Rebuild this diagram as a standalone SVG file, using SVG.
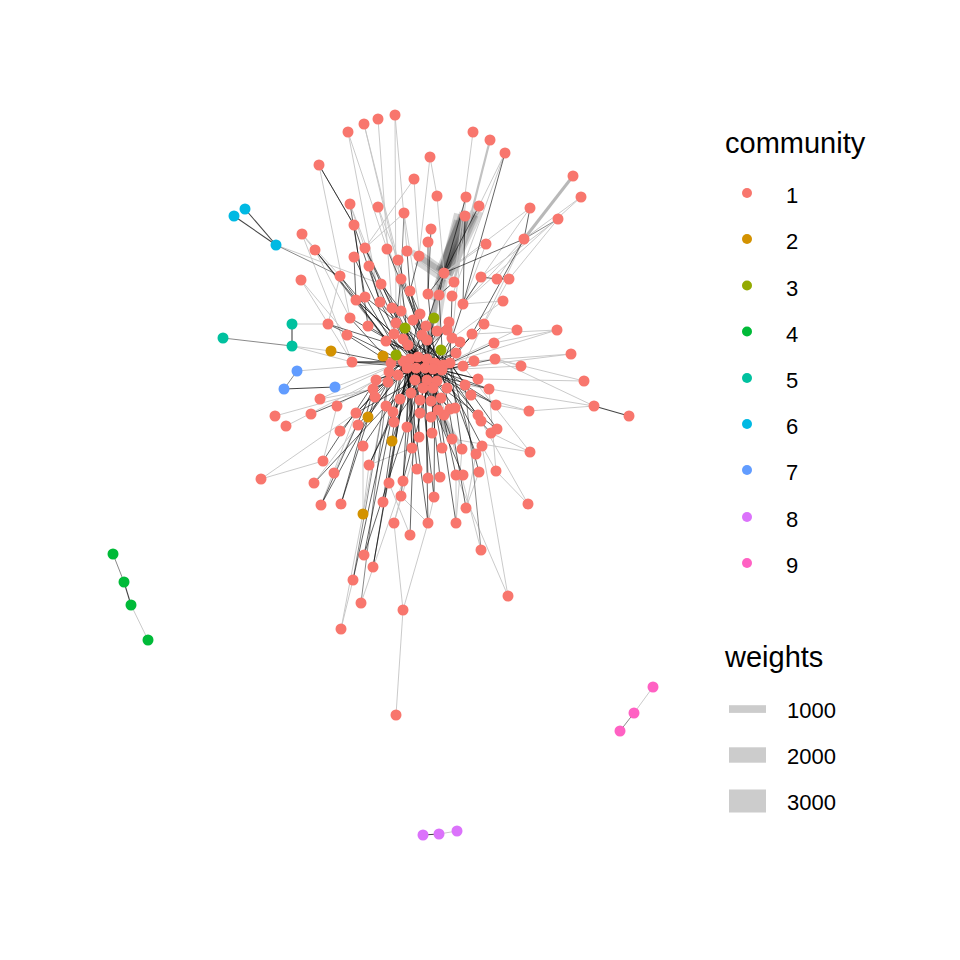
<svg xmlns="http://www.w3.org/2000/svg" width="960" height="960" viewBox="0 0 960 960">
<style>
.l{stroke:#c4c4c4;stroke-width:0.9;fill:none}
.m{stroke:#8a8a8a;stroke-width:1}
.k{stroke:#444;stroke-width:1.1}
.d{stroke:#000;stroke-opacity:0.68;stroke-width:0.9}
.b{stroke:#000;stroke-opacity:0.16}
.c1{fill:#F8766D}.c2{fill:#D39200}.c3{fill:#93AA00}.c4{fill:#00BA38}.c5{fill:#00C19F}.c6{fill:#00B9E3}.c7{fill:#619CFF}.c8{fill:#DB72FB}.c9{fill:#FF61C3}
text{font-family:"Liberation Sans",Arial,sans-serif;fill:#000}
.t{font-size:29px}.s{font-size:22px}
</style>
<rect width="960" height="960" fill="#fff"/>
<g id="edges">
<g id="bands">
<line class="b" x1="444" y1="273" x2="459" y2="214" stroke-width="10"/>
<line class="b" x1="444" y1="273" x2="466" y2="214" stroke-width="14"/>
<line class="b" x1="444" y1="273" x2="474" y2="212" stroke-width="8"/>
<line class="b" x1="444" y1="273" x2="478" y2="208" stroke-width="6"/>
<line class="b" x1="444" y1="273" x2="470" y2="213" stroke-width="18"/>
<line class="b" x1="440" y1="290" x2="462" y2="218" stroke-width="6"/>
<line class="b" x1="436" y1="285" x2="456" y2="220" stroke-width="4"/>
<line class="b" x1="448" y1="280" x2="481" y2="212" stroke-width="5"/>
<line class="b" x1="444" y1="273" x2="420" y2="256" stroke-width="10"/>
<line class="b" x1="444" y1="273" x2="412" y2="252" stroke-width="6"/>
<line class="b" x1="440" y1="278" x2="416" y2="262" stroke-width="5"/>
<line class="b" x1="444" y1="273" x2="432" y2="300" stroke-width="8"/>
<line class="b" x1="440" y1="285" x2="428" y2="340" stroke-width="6"/>
<line class="b" x1="436" y1="300" x2="425" y2="360" stroke-width="5"/>
<line class="b" x1="446" y1="280" x2="436" y2="340" stroke-width="4"/>
<line class="b" x1="430" y1="392" x2="452" y2="440" stroke-width="6"/>
<line class="b" x1="425" y1="385" x2="462" y2="448" stroke-width="4"/>
<line class="b" x1="432" y1="395" x2="446" y2="432" stroke-width="3"/>
<line x1="573" y1="176" x2="524" y2="239" stroke="#b8b8b8" stroke-width="3"/>
<line x1="490" y1="140" x2="454" y2="282" stroke="#c2c2c2" stroke-width="2.2"/>
</g>
<path class="l" d="M395 115L396 323M378 119L392 308M364 124L401 279M348 132L387 249M348 132L380 302M473 132L454 282M505 153L452 296M505 153L479 206M430 157L419 256M430 157L437 196M581 197L524 239M581 197L463 304M414 179L419 256M414 179L365 248M437 196L444 273M350 204L381 284M378 207L398 260M404 213L365 248M558 219L509 279M302 234L340 276M302 234L352 362M486 244L463 304M486 244L444 273M387 249L410 291M398 260L401 311M301 280L347 335M301 280L352 362M340 276L328 324M509 279L484 324M503 301L463 304M503 301L452 338M517 330L443 365M517 330L484 324M557 330L450 363M557 330L494 343M571 354L442 370M521 366L442 370M521 366L495 359M584 381L478 379M594 406L465 385M529 411L447 388M529 411L496 405M530 452L491 433M530 452L452 439M528 504L481 421M508 596L482 446M394 523L401 496M394 523L419 437M428 523L434 497M456 523L462 449M456 523L456 475M403 610L394 523M403 610L428 523M396 715L403 610M341 629L353 580M320 399L373 389M320 399L403 361M337 406L403 361M275 416L373 389M286 426L376 380M334 473L373 389M261 479L356 413M323 461L337 406M314 483L358 425M363 514L363 446M363 514L369 465M369 465L412 448M389 483L410 535M401 496L428 523M466 508L479 472M466 508L476 454M496 471L482 446M528 504L496 471M496 471L489 389M276 245L381 284M292 346L331 351M292 346L352 362M292 324L328 324M297 371L391 363M335 387L403 361M315 250L350 318M530 208L463 304M524 239L463 304M524 239L497 279M558 219L481 277M131 605L148 640M439 834L457 831M653 687L634 713M529 411L594 406M584 381L495 359M350 204L403 361M319 165L350 318M378 207L418 357M404 213L427 359M466 197L452 338M524 239L463 366M302 234L386 341M261 479L323 461M321 505L356 413M341 629L388 382M361 603L403 481M508 596L456 475M481 550L441 398M530 452L463 366M594 406L495 359M571 354L474 361M557 330L472 334M530 208L444 273M364 124L398 260M395 115L407 251"/>
<line class="m" x1="319" y1="165" x2="354" y2="225"/>
<line class="m" x1="404" y1="213" x2="401" y2="279"/>
<line class="m" x1="558" y1="219" x2="524" y2="239"/>
<line class="k" x1="245" y1="209" x2="276" y2="245"/>
<line class="k" x1="234" y1="216" x2="276" y2="245"/>
<line class="m" x1="276" y1="245" x2="340" y2="276"/>
<line class="m" x1="223" y1="338" x2="292" y2="346"/>
<line class="k" x1="292" y1="324" x2="292" y2="346"/>
<line class="m" x1="297" y1="371" x2="284" y2="389"/>
<line class="k" x1="284" y1="389" x2="335" y2="387"/>
<line class="m" x1="361" y1="603" x2="388" y2="382"/>
<line class="m" x1="353" y1="580" x2="391" y2="363"/>
<line class="m" x1="481" y1="550" x2="465" y2="385"/>
<line class="m" x1="113" y1="554" x2="124" y2="582"/>
<line class="k" x1="124" y1="582" x2="131" y2="605"/>
<line class="k" x1="423" y1="835" x2="439" y2="834"/>
<line class="m" x1="634" y1="713" x2="620" y2="731"/>
<line class="k" x1="594" y1="406" x2="629" y2="416"/>
<g id="dark">
<line class="d" x1="354" y1="225" x2="380" y2="302"/>
<line class="d" x1="466" y1="197" x2="444" y2="273"/>
<line class="d" x1="479" y1="206" x2="444" y2="273"/>
<line class="d" x1="530" y1="208" x2="524" y2="239"/>
<line class="d" x1="524" y1="239" x2="444" y2="273"/>
<line class="d" x1="524" y1="239" x2="472" y2="334"/>
<line class="d" x1="428" y1="242" x2="428" y2="294"/>
<line class="d" x1="365" y1="248" x2="392" y2="308"/>
<line class="d" x1="407" y1="251" x2="410" y2="291"/>
<line class="d" x1="354" y1="257" x2="356" y2="300"/>
<line class="d" x1="369" y1="266" x2="380" y2="302"/>
<line class="d" x1="315" y1="250" x2="356" y2="300"/>
<line class="d" x1="444" y1="273" x2="428" y2="294"/>
<line class="d" x1="444" y1="273" x2="439" y2="295"/>
<line class="d" x1="444" y1="273" x2="426" y2="326"/>
<line class="d" x1="454" y1="282" x2="439" y2="295"/>
<line class="d" x1="481" y1="277" x2="497" y2="279"/>
<line class="d" x1="481" y1="277" x2="463" y2="304"/>
<line class="d" x1="497" y1="279" x2="509" y2="279"/>
<line class="d" x1="350" y1="204" x2="365" y2="297"/>
<line class="d" x1="354" y1="225" x2="368" y2="326"/>
<line class="d" x1="340" y1="276" x2="386" y2="341"/>
<line class="d" x1="465" y1="216" x2="463" y2="304"/>
<line class="d" x1="431" y1="229" x2="428" y2="294"/>
<line class="d" x1="419" y1="256" x2="410" y2="291"/>
<line class="d" x1="401" y1="279" x2="396" y2="323"/>
<line class="d" x1="410" y1="291" x2="420" y2="314"/>
<line class="d" x1="315" y1="250" x2="403" y2="361"/>
<line class="d" x1="354" y1="257" x2="407" y2="368"/>
<line class="d" x1="340" y1="276" x2="410" y2="359"/>
<line class="d" x1="365" y1="248" x2="425" y2="368"/>
<line class="d" x1="369" y1="266" x2="416" y2="368"/>
<line class="d" x1="398" y1="260" x2="427" y2="359"/>
<line class="d" x1="387" y1="249" x2="435" y2="363"/>
<line class="d" x1="381" y1="284" x2="443" y2="365"/>
<line class="d" x1="365" y1="297" x2="450" y2="363"/>
<line class="d" x1="356" y1="300" x2="433" y2="369"/>
<line class="d" x1="350" y1="318" x2="442" y2="370"/>
<line class="d" x1="381" y1="284" x2="418" y2="357"/>
<line class="d" x1="401" y1="279" x2="410" y2="359"/>
<line class="d" x1="410" y1="291" x2="427" y2="359"/>
<line class="d" x1="428" y1="294" x2="435" y2="363"/>
<line class="d" x1="439" y1="295" x2="443" y2="365"/>
<line class="d" x1="452" y1="296" x2="450" y2="363"/>
<line class="d" x1="463" y1="304" x2="443" y2="365"/>
<line class="d" x1="356" y1="300" x2="403" y2="361"/>
<line class="d" x1="365" y1="297" x2="407" y2="368"/>
<line class="d" x1="380" y1="302" x2="410" y2="359"/>
<line class="d" x1="392" y1="308" x2="416" y2="368"/>
<line class="d" x1="401" y1="311" x2="425" y2="368"/>
<line class="d" x1="350" y1="318" x2="391" y2="363"/>
<line class="d" x1="328" y1="324" x2="403" y2="361"/>
<line class="d" x1="368" y1="326" x2="418" y2="357"/>
<line class="d" x1="347" y1="335" x2="391" y2="363"/>
<line class="d" x1="386" y1="341" x2="416" y2="368"/>
<line class="d" x1="394" y1="334" x2="427" y2="359"/>
<line class="d" x1="396" y1="323" x2="435" y2="363"/>
<line class="d" x1="413" y1="320" x2="425" y2="368"/>
<line class="d" x1="420" y1="314" x2="433" y2="369"/>
<line class="d" x1="426" y1="326" x2="442" y2="370"/>
<line class="d" x1="422" y1="335" x2="407" y2="368"/>
<line class="d" x1="427" y1="340" x2="416" y2="368"/>
<line class="d" x1="403" y1="339" x2="425" y2="368"/>
<line class="d" x1="408" y1="345" x2="433" y2="369"/>
<line class="d" x1="437" y1="331" x2="410" y2="359"/>
<line class="d" x1="447" y1="330" x2="418" y2="357"/>
<line class="d" x1="449" y1="322" x2="427" y2="359"/>
<line class="d" x1="452" y1="338" x2="435" y2="363"/>
<line class="d" x1="472" y1="334" x2="450" y2="363"/>
<line class="d" x1="484" y1="324" x2="443" y2="365"/>
<line class="d" x1="494" y1="343" x2="450" y2="363"/>
<line class="d" x1="456" y1="353" x2="425" y2="368"/>
<line class="d" x1="495" y1="359" x2="442" y2="370"/>
<line class="d" x1="474" y1="361" x2="433" y2="369"/>
<line class="d" x1="463" y1="366" x2="442" y2="370"/>
<line class="d" x1="460" y1="342" x2="435" y2="363"/>
<line class="d" x1="376" y1="380" x2="407" y2="368"/>
<line class="d" x1="388" y1="382" x2="416" y2="368"/>
<line class="d" x1="398" y1="375" x2="425" y2="368"/>
<line class="d" x1="415" y1="380" x2="418" y2="357"/>
<line class="d" x1="427" y1="380" x2="427" y2="359"/>
<line class="d" x1="437" y1="381" x2="435" y2="363"/>
<line class="d" x1="433" y1="388" x2="410" y2="359"/>
<line class="d" x1="423" y1="388" x2="403" y2="361"/>
<line class="d" x1="447" y1="388" x2="443" y2="365"/>
<line class="d" x1="465" y1="385" x2="450" y2="363"/>
<line class="d" x1="478" y1="379" x2="442" y2="370"/>
<line class="d" x1="489" y1="389" x2="433" y2="369"/>
<line class="d" x1="471" y1="395" x2="425" y2="368"/>
<line class="d" x1="373" y1="389" x2="403" y2="361"/>
<line class="d" x1="375" y1="397" x2="410" y2="359"/>
<line class="d" x1="400" y1="399" x2="418" y2="357"/>
<line class="d" x1="411" y1="393" x2="427" y2="359"/>
<line class="d" x1="420" y1="400" x2="435" y2="363"/>
<line class="d" x1="431" y1="401" x2="443" y2="365"/>
<line class="d" x1="441" y1="398" x2="407" y2="368"/>
<line class="d" x1="450" y1="409" x2="416" y2="368"/>
<line class="d" x1="444" y1="415" x2="425" y2="368"/>
<line class="d" x1="420" y1="413" x2="433" y2="369"/>
<line class="d" x1="431" y1="417" x2="442" y2="370"/>
<line class="d" x1="386" y1="406" x2="418" y2="357"/>
<line class="d" x1="393" y1="412" x2="427" y2="359"/>
<line class="d" x1="394" y1="422" x2="435" y2="363"/>
<line class="d" x1="407" y1="427" x2="443" y2="365"/>
<line class="d" x1="455" y1="408" x2="425" y2="368"/>
<line class="d" x1="438" y1="410" x2="416" y2="368"/>
<line class="d" x1="478" y1="415" x2="435" y2="363"/>
<line class="d" x1="389" y1="372" x2="410" y2="359"/>
<line class="d" x1="391" y1="363" x2="403" y2="361"/>
<line class="d" x1="352" y1="362" x2="403" y2="361"/>
<line class="d" x1="352" y1="362" x2="391" y2="363"/>
<line class="d" x1="419" y1="437" x2="416" y2="368"/>
<line class="d" x1="432" y1="433" x2="435" y2="363"/>
<line class="d" x1="412" y1="448" x2="410" y2="359"/>
<line class="d" x1="452" y1="439" x2="425" y2="368"/>
<line class="d" x1="462" y1="449" x2="450" y2="363"/>
<line class="d" x1="442" y1="448" x2="427" y2="359"/>
<line class="d" x1="482" y1="446" x2="442" y2="370"/>
<line class="d" x1="476" y1="454" x2="443" y2="365"/>
<line class="d" x1="369" y1="465" x2="418" y2="357"/>
<line class="d" x1="417" y1="469" x2="407" y2="368"/>
<line class="d" x1="428" y1="478" x2="425" y2="368"/>
<line class="d" x1="440" y1="477" x2="427" y2="359"/>
<line class="d" x1="456" y1="475" x2="433" y2="369"/>
<line class="d" x1="463" y1="475" x2="416" y2="368"/>
<line class="d" x1="479" y1="472" x2="450" y2="363"/>
<line class="d" x1="389" y1="483" x2="407" y2="368"/>
<line class="d" x1="403" y1="481" x2="410" y2="359"/>
<line class="d" x1="401" y1="496" x2="416" y2="368"/>
<line class="d" x1="383" y1="502" x2="403" y2="361"/>
<line class="d" x1="434" y1="497" x2="435" y2="363"/>
<line class="d" x1="321" y1="505" x2="373" y2="389"/>
<line class="d" x1="321" y1="505" x2="388" y2="382"/>
<line class="d" x1="341" y1="504" x2="376" y2="380"/>
<line class="d" x1="341" y1="504" x2="375" y2="397"/>
<line class="d" x1="314" y1="483" x2="386" y2="406"/>
<line class="d" x1="323" y1="461" x2="376" y2="380"/>
<line class="d" x1="340" y1="431" x2="403" y2="361"/>
<line class="d" x1="363" y1="446" x2="416" y2="368"/>
<line class="d" x1="356" y1="413" x2="410" y2="359"/>
<line class="d" x1="358" y1="425" x2="407" y2="368"/>
<line class="d" x1="311" y1="414" x2="388" y2="382"/>
<line class="d" x1="364" y1="555" x2="403" y2="361"/>
<line class="d" x1="364" y1="555" x2="425" y2="368"/>
<line class="d" x1="373" y1="567" x2="407" y2="368"/>
<line class="d" x1="373" y1="567" x2="410" y2="359"/>
<line class="d" x1="353" y1="580" x2="398" y2="375"/>
<line class="d" x1="410" y1="535" x2="416" y2="368"/>
<line class="d" x1="428" y1="523" x2="425" y2="368"/>
<line class="d" x1="456" y1="523" x2="433" y2="369"/>
<line class="d" x1="496" y1="405" x2="442" y2="370"/>
<line class="d" x1="481" y1="421" x2="443" y2="365"/>
<line class="d" x1="491" y1="433" x2="433" y2="369"/>
<line class="d" x1="497" y1="429" x2="450" y2="363"/>
<line class="d" x1="466" y1="508" x2="442" y2="370"/>
<line class="d" x1="331" y1="351" x2="391" y2="363"/>
<line class="d" x1="383" y1="356" x2="403" y2="361"/>
<line class="d" x1="368" y1="417" x2="410" y2="359"/>
<line class="d" x1="392" y1="441" x2="418" y2="357"/>
<line class="d" x1="405" y1="328" x2="418" y2="357"/>
<line class="d" x1="434" y1="318" x2="427" y2="359"/>
<line class="d" x1="441" y1="350" x2="435" y2="363"/>
<line class="d" x1="396" y1="355" x2="403" y2="361"/>
<line class="d" x1="403" y1="361" x2="427" y2="359"/>
<line class="d" x1="403" y1="361" x2="450" y2="363"/>
<line class="d" x1="410" y1="359" x2="443" y2="365"/>
<line class="d" x1="410" y1="359" x2="425" y2="368"/>
<line class="d" x1="418" y1="357" x2="442" y2="370"/>
<line class="d" x1="418" y1="357" x2="416" y2="368"/>
<line class="d" x1="427" y1="359" x2="407" y2="368"/>
<line class="d" x1="427" y1="359" x2="433" y2="369"/>
<line class="d" x1="435" y1="363" x2="407" y2="368"/>
<line class="d" x1="435" y1="363" x2="403" y2="361"/>
<line class="d" x1="443" y1="365" x2="416" y2="368"/>
<line class="d" x1="450" y1="363" x2="407" y2="368"/>
<line class="d" x1="416" y1="368" x2="442" y2="370"/>
<line class="d" x1="425" y1="368" x2="403" y2="361"/>
<line class="d" x1="433" y1="369" x2="410" y2="359"/>
<line class="d" x1="442" y1="370" x2="407" y2="368"/>
<line class="d" x1="443" y1="365" x2="403" y2="361"/>
<line class="d" x1="391" y1="363" x2="450" y2="363"/>
<line class="d" x1="391" y1="363" x2="433" y2="369"/>
<line class="d" x1="389" y1="372" x2="442" y2="370"/>
<line class="d" x1="398" y1="375" x2="443" y2="365"/>
<line class="d" x1="415" y1="380" x2="425" y2="368"/>
<line class="d" x1="356" y1="300" x2="433" y2="369"/>
<line class="d" x1="380" y1="302" x2="442" y2="370"/>
<line class="d" x1="328" y1="324" x2="450" y2="363"/>
<line class="d" x1="352" y1="362" x2="433" y2="369"/>
<line class="d" x1="356" y1="413" x2="443" y2="365"/>
<line class="d" x1="373" y1="389" x2="425" y2="368"/>
<line class="d" x1="386" y1="406" x2="433" y2="369"/>
<line class="d" x1="407" y1="427" x2="410" y2="359"/>
<line class="d" x1="419" y1="437" x2="418" y2="357"/>
<line class="d" x1="412" y1="448" x2="407" y2="368"/>
<line class="d" x1="369" y1="465" x2="416" y2="368"/>
<line class="d" x1="403" y1="481" x2="433" y2="369"/>
<line class="d" x1="434" y1="497" x2="418" y2="357"/>
<line class="d" x1="428" y1="523" x2="407" y2="368"/>
<line class="d" x1="401" y1="279" x2="447" y2="388"/>
<line class="d" x1="410" y1="291" x2="437" y2="381"/>
<line class="d" x1="392" y1="308" x2="427" y2="380"/>
<line class="d" x1="396" y1="323" x2="433" y2="388"/>
<line class="d" x1="437" y1="331" x2="415" y2="380"/>
<line class="d" x1="456" y1="353" x2="376" y2="380"/>
<line class="d" x1="478" y1="379" x2="403" y2="361"/>
<line class="d" x1="489" y1="389" x2="407" y2="368"/>
<line class="d" x1="496" y1="405" x2="410" y2="359"/>
<line class="d" x1="497" y1="429" x2="416" y2="368"/>
<line class="d" x1="450" y1="409" x2="403" y2="361"/>
<line class="d" x1="447" y1="388" x2="391" y2="363"/>
<line class="d" x1="386" y1="341" x2="442" y2="370"/>
<line class="d" x1="422" y1="335" x2="443" y2="365"/>
<line class="d" x1="505" y1="153" x2="463" y2="304"/>
<line class="d" x1="319" y1="165" x2="354" y2="225"/>
<line class="d" x1="427" y1="380" x2="403" y2="361"/>
<line class="d" x1="437" y1="381" x2="410" y2="359"/>
<line class="d" x1="420" y1="400" x2="407" y2="368"/>
<line class="d" x1="431" y1="401" x2="416" y2="368"/>
<line class="d" x1="400" y1="399" x2="433" y2="369"/>
<line class="d" x1="411" y1="393" x2="442" y2="370"/>
<line class="d" x1="413" y1="320" x2="443" y2="365"/>
<line class="d" x1="420" y1="314" x2="407" y2="368"/>
<line class="d" x1="449" y1="322" x2="403" y2="361"/>
<line class="d" x1="394" y1="334" x2="450" y2="363"/>
</g>
</g>
<g id="nodes">
<g id="n1"><circle class="c1" cx="395" cy="115" r="5.5"/></g>
<g id="n2"><circle class="c1" cx="378" cy="119" r="5.5"/></g>
<g id="n3"><circle class="c1" cx="364" cy="124" r="5.5"/></g>
<g id="n4"><circle class="c1" cx="348" cy="132" r="5.5"/></g>
<g id="n5"><circle class="c1" cx="473" cy="132" r="5.5"/></g>
<g id="n6"><circle class="c1" cx="490" cy="140" r="5.5"/></g>
<g id="n7"><circle class="c1" cx="505" cy="153" r="5.5"/></g>
<g id="n8"><circle class="c1" cx="319" cy="165" r="5.5"/></g>
<g id="n9"><circle class="c1" cx="430" cy="157" r="5.5"/></g>
<g id="n10"><circle class="c1" cx="573" cy="176" r="5.5"/></g>
<g id="n11"><circle class="c1" cx="581" cy="197" r="5.5"/></g>
<g id="n12"><circle class="c1" cx="414" cy="179" r="5.5"/></g>
<g id="n13"><circle class="c1" cx="437" cy="196" r="5.5"/></g>
<g id="n14"><circle class="c1" cx="466" cy="197" r="5.5"/></g>
<g id="n15"><circle class="c1" cx="479" cy="206" r="5.5"/></g>
<g id="n16"><circle class="c1" cx="465" cy="216" r="5.5"/></g>
<g id="n17"><circle class="c1" cx="350" cy="204" r="5.5"/></g>
<g id="n18"><circle class="c1" cx="378" cy="207" r="5.5"/></g>
<g id="n19"><circle class="c1" cx="404" cy="213" r="5.5"/></g>
<g id="n20"><circle class="c1" cx="530" cy="208" r="5.5"/></g>
<g id="n21"><circle class="c1" cx="558" cy="219" r="5.5"/></g>
<g id="n22"><circle class="c1" cx="354" cy="225" r="5.5"/></g>
<g id="n23"><circle class="c1" cx="431" cy="229" r="5.5"/></g>
<g id="n24"><circle class="c1" cx="302" cy="234" r="5.5"/></g>
<g id="n25"><circle class="c1" cx="315" cy="250" r="5.5"/></g>
<g id="n26"><circle class="c1" cx="524" cy="239" r="5.5"/></g>
<g id="n27"><circle class="c1" cx="428" cy="242" r="5.5"/></g>
<g id="n28"><circle class="c1" cx="486" cy="244" r="5.5"/></g>
<g id="n29"><circle class="c1" cx="365" cy="248" r="5.5"/></g>
<g id="n30"><circle class="c1" cx="387" cy="249" r="5.5"/></g>
<g id="n31"><circle class="c1" cx="407" cy="251" r="5.5"/></g>
<g id="n32"><circle class="c1" cx="354" cy="257" r="5.5"/></g>
<g id="n33"><circle class="c1" cx="419" cy="256" r="5.5"/></g>
<g id="n34"><circle class="c1" cx="398" cy="260" r="5.5"/></g>
<g id="n35"><circle class="c1" cx="369" cy="266" r="5.5"/></g>
<g id="n36"><circle class="c1" cx="340" cy="276" r="5.5"/></g>
<g id="n37"><circle class="c1" cx="301" cy="280" r="5.5"/></g>
<g id="n38"><circle class="c1" cx="444" cy="273" r="5.5"/></g>
<g id="n39"><circle class="c1" cx="454" cy="282" r="5.5"/></g>
<g id="n40"><circle class="c1" cx="481" cy="277" r="5.5"/></g>
<g id="n41"><circle class="c1" cx="497" cy="279" r="5.5"/></g>
<g id="n42"><circle class="c1" cx="509" cy="279" r="5.5"/></g>
<g id="n43"><circle class="c1" cx="381" cy="284" r="5.5"/></g>
<g id="n44"><circle class="c1" cx="401" cy="279" r="5.5"/></g>
<g id="n45"><circle class="c1" cx="410" cy="291" r="5.5"/></g>
<g id="n46"><circle class="c1" cx="428" cy="294" r="5.5"/></g>
<g id="n47"><circle class="c1" cx="439" cy="295" r="5.5"/></g>
<g id="n48"><circle class="c1" cx="452" cy="296" r="5.5"/></g>
<g id="n49"><circle class="c1" cx="463" cy="304" r="5.5"/></g>
<g id="n50"><circle class="c1" cx="503" cy="301" r="5.5"/></g>
<g id="n51"><circle class="c1" cx="356" cy="300" r="5.5"/></g>
<g id="n52"><circle class="c1" cx="365" cy="297" r="5.5"/></g>
<g id="n53"><circle class="c1" cx="380" cy="302" r="5.5"/></g>
<g id="n54"><circle class="c1" cx="392" cy="308" r="5.5"/></g>
<g id="n55"><circle class="c1" cx="401" cy="311" r="5.5"/></g>
<g id="n56"><circle class="c1" cx="350" cy="318" r="5.5"/></g>
<g id="n57"><circle class="c1" cx="328" cy="324" r="5.5"/></g>
<g id="n58"><circle class="c1" cx="368" cy="326" r="5.5"/></g>
<g id="n59"><circle class="c1" cx="347" cy="335" r="5.5"/></g>
<g id="n60"><circle class="c1" cx="386" cy="341" r="5.5"/></g>
<g id="n61"><circle class="c1" cx="394" cy="334" r="5.5"/></g>
<g id="n62"><circle class="c1" cx="396" cy="323" r="5.5"/></g>
<g id="n63"><circle class="c1" cx="413" cy="320" r="5.5"/></g>
<g id="n64"><circle class="c1" cx="420" cy="314" r="5.5"/></g>
<g id="n65"><circle class="c1" cx="426" cy="326" r="5.5"/></g>
<g id="n66"><circle class="c1" cx="422" cy="335" r="5.5"/></g>
<g id="n67"><circle class="c1" cx="427" cy="340" r="5.5"/></g>
<g id="n68"><circle class="c1" cx="403" cy="339" r="5.5"/></g>
<g id="n69"><circle class="c1" cx="408" cy="345" r="5.5"/></g>
<g id="n70"><circle class="c1" cx="437" cy="331" r="5.5"/></g>
<g id="n71"><circle class="c1" cx="447" cy="330" r="5.5"/></g>
<g id="n72"><circle class="c1" cx="449" cy="322" r="5.5"/></g>
<g id="n73"><circle class="c1" cx="452" cy="338" r="5.5"/></g>
<g id="n74"><circle class="c1" cx="472" cy="334" r="5.5"/></g>
<g id="n75"><circle class="c1" cx="484" cy="324" r="5.5"/></g>
<g id="n76"><circle class="c1" cx="517" cy="330" r="5.5"/></g>
<g id="n77"><circle class="c1" cx="557" cy="330" r="5.5"/></g>
<g id="n78"><circle class="c1" cx="494" cy="343" r="5.5"/></g>
<g id="n79"><circle class="c1" cx="456" cy="353" r="5.5"/></g>
<g id="n80"><circle class="c1" cx="495" cy="359" r="5.5"/></g>
<g id="n81"><circle class="c1" cx="571" cy="354" r="5.5"/></g>
<g id="n82"><circle class="c1" cx="474" cy="361" r="5.5"/></g>
<g id="n83"><circle class="c1" cx="463" cy="366" r="5.5"/></g>
<g id="n84"><circle class="c1" cx="521" cy="366" r="5.5"/></g>
<g id="n85"><circle class="c1" cx="584" cy="381" r="5.5"/></g>
<g id="n86"><circle class="c1" cx="594" cy="406" r="5.5"/></g>
<g id="n87"><circle class="c1" cx="629" cy="416" r="5.5"/></g>
<g id="n88"><circle class="c1" cx="403" cy="361" r="5.5"/></g>
<g id="n89"><circle class="c1" cx="410" cy="359" r="5.5"/></g>
<g id="n90"><circle class="c1" cx="418" cy="357" r="5.5"/></g>
<g id="n91"><circle class="c1" cx="427" cy="359" r="5.5"/></g>
<g id="n92"><circle class="c1" cx="435" cy="363" r="5.5"/></g>
<g id="n93"><circle class="c1" cx="443" cy="365" r="5.5"/></g>
<g id="n94"><circle class="c1" cx="450" cy="363" r="5.5"/></g>
<g id="n95"><circle class="c1" cx="407" cy="368" r="5.5"/></g>
<g id="n96"><circle class="c1" cx="416" cy="368" r="5.5"/></g>
<g id="n97"><circle class="c1" cx="425" cy="368" r="5.5"/></g>
<g id="n98"><circle class="c1" cx="433" cy="369" r="5.5"/></g>
<g id="n99"><circle class="c1" cx="442" cy="370" r="5.5"/></g>
<g id="n100"><circle class="c1" cx="391" cy="363" r="5.5"/></g>
<g id="n101"><circle class="c1" cx="352" cy="362" r="5.5"/></g>
<g id="n102"><circle class="c1" cx="376" cy="380" r="5.5"/></g>
<g id="n103"><circle class="c1" cx="388" cy="382" r="5.5"/></g>
<g id="n104"><circle class="c1" cx="398" cy="375" r="5.5"/></g>
<g id="n105"><circle class="c1" cx="415" cy="380" r="5.5"/></g>
<g id="n106"><circle class="c1" cx="427" cy="380" r="5.5"/></g>
<g id="n107"><circle class="c1" cx="437" cy="381" r="5.5"/></g>
<g id="n108"><circle class="c1" cx="433" cy="388" r="5.5"/></g>
<g id="n109"><circle class="c1" cx="423" cy="388" r="5.5"/></g>
<g id="n110"><circle class="c1" cx="447" cy="388" r="5.5"/></g>
<g id="n111"><circle class="c1" cx="465" cy="385" r="5.5"/></g>
<g id="n112"><circle class="c1" cx="478" cy="379" r="5.5"/></g>
<g id="n113"><circle class="c1" cx="489" cy="389" r="5.5"/></g>
<g id="n114"><circle class="c1" cx="471" cy="395" r="5.5"/></g>
<g id="n115"><circle class="c1" cx="373" cy="389" r="5.5"/></g>
<g id="n116"><circle class="c1" cx="375" cy="397" r="5.5"/></g>
<g id="n117"><circle class="c1" cx="400" cy="399" r="5.5"/></g>
<g id="n118"><circle class="c1" cx="411" cy="393" r="5.5"/></g>
<g id="n119"><circle class="c1" cx="420" cy="400" r="5.5"/></g>
<g id="n120"><circle class="c1" cx="431" cy="401" r="5.5"/></g>
<g id="n121"><circle class="c1" cx="441" cy="398" r="5.5"/></g>
<g id="n122"><circle class="c1" cx="450" cy="409" r="5.5"/></g>
<g id="n123"><circle class="c1" cx="444" cy="415" r="5.5"/></g>
<g id="n124"><circle class="c1" cx="420" cy="413" r="5.5"/></g>
<g id="n125"><circle class="c1" cx="431" cy="417" r="5.5"/></g>
<g id="n126"><circle class="c1" cx="386" cy="406" r="5.5"/></g>
<g id="n127"><circle class="c1" cx="393" cy="412" r="5.5"/></g>
<g id="n128"><circle class="c1" cx="394" cy="422" r="5.5"/></g>
<g id="n129"><circle class="c1" cx="407" cy="427" r="5.5"/></g>
<g id="n130"><circle class="c1" cx="496" cy="405" r="5.5"/></g>
<g id="n131"><circle class="c1" cx="529" cy="411" r="5.5"/></g>
<g id="n132"><circle class="c1" cx="481" cy="421" r="5.5"/></g>
<g id="n133"><circle class="c1" cx="491" cy="433" r="5.5"/></g>
<g id="n134"><circle class="c1" cx="497" cy="429" r="5.5"/></g>
<g id="n135"><circle class="c1" cx="320" cy="399" r="5.5"/></g>
<g id="n136"><circle class="c1" cx="337" cy="406" r="5.5"/></g>
<g id="n137"><circle class="c1" cx="275" cy="416" r="5.5"/></g>
<g id="n138"><circle class="c1" cx="286" cy="426" r="5.5"/></g>
<g id="n139"><circle class="c1" cx="311" cy="414" r="5.5"/></g>
<g id="n140"><circle class="c1" cx="356" cy="413" r="5.5"/></g>
<g id="n141"><circle class="c1" cx="358" cy="425" r="5.5"/></g>
<g id="n142"><circle class="c1" cx="340" cy="431" r="5.5"/></g>
<g id="n143"><circle class="c1" cx="363" cy="446" r="5.5"/></g>
<g id="n144"><circle class="c1" cx="419" cy="437" r="5.5"/></g>
<g id="n145"><circle class="c1" cx="432" cy="433" r="5.5"/></g>
<g id="n146"><circle class="c1" cx="412" cy="448" r="5.5"/></g>
<g id="n147"><circle class="c1" cx="452" cy="439" r="5.5"/></g>
<g id="n148"><circle class="c1" cx="462" cy="449" r="5.5"/></g>
<g id="n149"><circle class="c1" cx="442" cy="448" r="5.5"/></g>
<g id="n150"><circle class="c1" cx="482" cy="446" r="5.5"/></g>
<g id="n151"><circle class="c1" cx="476" cy="454" r="5.5"/></g>
<g id="n152"><circle class="c1" cx="530" cy="452" r="5.5"/></g>
<g id="n153"><circle class="c1" cx="323" cy="461" r="5.5"/></g>
<g id="n154"><circle class="c1" cx="334" cy="473" r="5.5"/></g>
<g id="n155"><circle class="c1" cx="369" cy="465" r="5.5"/></g>
<g id="n156"><circle class="c1" cx="417" cy="469" r="5.5"/></g>
<g id="n157"><circle class="c1" cx="428" cy="478" r="5.5"/></g>
<g id="n158"><circle class="c1" cx="440" cy="477" r="5.5"/></g>
<g id="n159"><circle class="c1" cx="456" cy="475" r="5.5"/></g>
<g id="n160"><circle class="c1" cx="463" cy="475" r="5.5"/></g>
<g id="n161"><circle class="c1" cx="479" cy="472" r="5.5"/></g>
<g id="n162"><circle class="c1" cx="496" cy="471" r="5.5"/></g>
<g id="n163"><circle class="c1" cx="261" cy="479" r="5.5"/></g>
<g id="n164"><circle class="c1" cx="314" cy="483" r="5.5"/></g>
<g id="n165"><circle class="c1" cx="389" cy="483" r="5.5"/></g>
<g id="n166"><circle class="c1" cx="403" cy="481" r="5.5"/></g>
<g id="n167"><circle class="c1" cx="401" cy="496" r="5.5"/></g>
<g id="n168"><circle class="c1" cx="383" cy="502" r="5.5"/></g>
<g id="n169"><circle class="c1" cx="434" cy="497" r="5.5"/></g>
<g id="n170"><circle class="c1" cx="321" cy="505" r="5.5"/></g>
<g id="n171"><circle class="c1" cx="341" cy="504" r="5.5"/></g>
<g id="n172"><circle class="c1" cx="528" cy="504" r="5.5"/></g>
<g id="n173"><circle class="c1" cx="466" cy="508" r="5.5"/></g>
<g id="n174"><circle class="c1" cx="394" cy="523" r="5.5"/></g>
<g id="n175"><circle class="c1" cx="428" cy="523" r="5.5"/></g>
<g id="n176"><circle class="c1" cx="456" cy="523" r="5.5"/></g>
<g id="n177"><circle class="c1" cx="410" cy="535" r="5.5"/></g>
<g id="n178"><circle class="c1" cx="481" cy="550" r="5.5"/></g>
<g id="n179"><circle class="c1" cx="508" cy="596" r="5.5"/></g>
<g id="n180"><circle class="c1" cx="364" cy="555" r="5.5"/></g>
<g id="n181"><circle class="c1" cx="373" cy="567" r="5.5"/></g>
<g id="n182"><circle class="c1" cx="353" cy="580" r="5.5"/></g>
<g id="n183"><circle class="c1" cx="361" cy="603" r="5.5"/></g>
<g id="n184"><circle class="c1" cx="341" cy="629" r="5.5"/></g>
<g id="n185"><circle class="c1" cx="403" cy="610" r="5.5"/></g>
<g id="n186"><circle class="c1" cx="396" cy="715" r="5.5"/></g>
<g id="n187"><circle class="c1" cx="389" cy="372" r="5.5"/></g>
<g id="n188"><circle class="c1" cx="460" cy="342" r="5.5"/></g>
<g id="n189"><circle class="c1" cx="455" cy="408" r="5.5"/></g>
<g id="n190"><circle class="c1" cx="438" cy="410" r="5.5"/></g>
<g id="n191"><circle class="c1" cx="478" cy="415" r="5.5"/></g>
<g id="o1"><circle class="c2" cx="331" cy="351" r="5.5"/></g>
<g id="o2"><circle class="c2" cx="383" cy="356" r="5.5"/></g>
<g id="o3"><circle class="c2" cx="368" cy="417" r="5.5"/></g>
<g id="o4"><circle class="c2" cx="392" cy="441" r="5.5"/></g>
<g id="o5"><circle class="c2" cx="363" cy="514" r="5.5"/></g>
<g id="v1"><circle class="c3" cx="405" cy="328" r="5.5"/></g>
<g id="v2"><circle class="c3" cx="434" cy="318" r="5.5"/></g>
<g id="v3"><circle class="c3" cx="441" cy="350" r="5.5"/></g>
<g id="v4"><circle class="c3" cx="396" cy="355" r="5.5"/></g>
<g id="g1"><circle class="c4" cx="113" cy="554" r="5.5"/></g>
<g id="g2"><circle class="c4" cx="124" cy="582" r="5.5"/></g>
<g id="g3"><circle class="c4" cx="131" cy="605" r="5.5"/></g>
<g id="g4"><circle class="c4" cx="148" cy="640" r="5.5"/></g>
<g id="t1"><circle class="c5" cx="223" cy="338" r="5.5"/></g>
<g id="t2"><circle class="c5" cx="292" cy="324" r="5.5"/></g>
<g id="t3"><circle class="c5" cx="292" cy="346" r="5.5"/></g>
<g id="s1"><circle class="c6" cx="245" cy="209" r="5.5"/></g>
<g id="s2"><circle class="c6" cx="234" cy="216" r="5.5"/></g>
<g id="s3"><circle class="c6" cx="276" cy="245" r="5.5"/></g>
<g id="u1"><circle class="c7" cx="297" cy="371" r="5.5"/></g>
<g id="u2"><circle class="c7" cx="284" cy="389" r="5.5"/></g>
<g id="u3"><circle class="c7" cx="335" cy="387" r="5.5"/></g>
<g id="p1"><circle class="c8" cx="423" cy="835" r="5.5"/></g>
<g id="p2"><circle class="c8" cx="439" cy="834" r="5.5"/></g>
<g id="p3"><circle class="c8" cx="457" cy="831" r="5.5"/></g>
<g id="k1"><circle class="c9" cx="653" cy="687" r="5.5"/></g>
<g id="k2"><circle class="c9" cx="634" cy="713" r="5.5"/></g>
<g id="k3"><circle class="c9" cx="620" cy="731" r="5.5"/></g>
</g>
<g id="legend-community">
<text class="t" x="725" y="153">community</text>
<circle class="c1" cx="747" cy="193" r="5"/><text class="s" x="786" y="203">1</text>
<circle class="c2" cx="747" cy="239" r="5"/><text class="s" x="786" y="249">2</text>
<circle class="c3" cx="747" cy="285.5" r="5"/><text class="s" x="786" y="295.5">3</text>
<circle class="c4" cx="747" cy="331.5" r="5"/><text class="s" x="786" y="341.5">4</text>
<circle class="c5" cx="747" cy="378" r="5"/><text class="s" x="786" y="388">5</text>
<circle class="c6" cx="747" cy="424" r="5"/><text class="s" x="786" y="434">6</text>
<circle class="c7" cx="747" cy="470" r="5"/><text class="s" x="786" y="480">7</text>
<circle class="c8" cx="747" cy="517" r="5"/><text class="s" x="786" y="527">8</text>
<circle class="c9" cx="747" cy="563" r="5"/><text class="s" x="786" y="573">9</text>
</g>
<g id="legend-weights">
<text class="t" x="725" y="667">weights</text>
<rect x="729" y="705.2" width="37" height="7.7" fill="#ccc"/><text class="s" x="787" y="718">1000</text>
<rect x="729" y="747.3" width="37" height="15.4" fill="#ccc"/><text class="s" x="787" y="764">2000</text>
<rect x="729" y="789.5" width="37" height="23" fill="#ccc"/><text class="s" x="787" y="810">3000</text>
</g>
</svg>
